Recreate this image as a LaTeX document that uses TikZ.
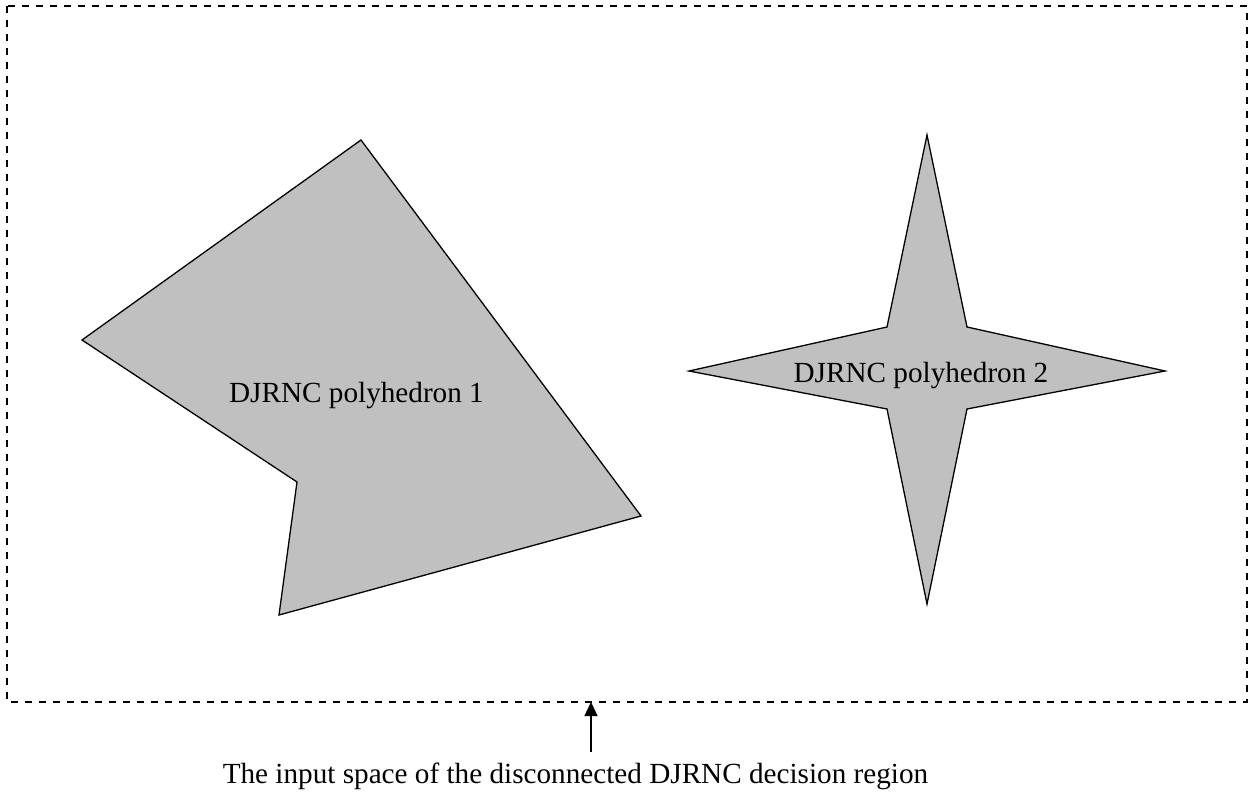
\documentclass[tikz,border=0pt]{standalone}
\usepackage{fontspec}
\setmainfont{Liberation Serif}
\usetikzlibrary{arrows.meta}
\definecolor{polygray}{HTML}{C0C0C0}
\begin{document}
\begin{tikzpicture}[x=1pt,y=-1pt,
  poly/.style={draw=black,fill=polygray,line width=1.3pt,line join=miter},
  frame/.style={draw=black,line width=1.7pt,dash pattern=on 7pt off 7pt},
  lbl/.style={font=\fontsize{29.2}{34}\selectfont,anchor=base,inner sep=0pt}]
\useasboundingbox (0,0) rectangle (1250,794);
\draw[frame] (7,6) rectangle (1247,702);
\draw[poly] (361,140) -- (641,516) -- (279,615) -- (297,482) -- (82,340) -- cycle;
\draw[poly] (927,135) -- (967,327) -- (1165,371) -- (967,409) -- (927,604) -- (887,409) -- (689,371) -- (887,327) -- cycle;
\node[lbl] (p1) at (356.5,402) {DJRNC polyhedron 1};
\node[lbl] (p2) at (921,382) {DJRNC polyhedron 2};
\node[lbl] (cap) at (575.5,783) {The input space of the disconnected DJRNC decision region};
\coordinate (tip) at (591,702);
\coordinate (tail) at (591,752);
\draw[line width=1.4pt,-{Triangle[length=14pt,width=13pt]}] (tail) -- (tip);
\end{tikzpicture}
\end{document}
